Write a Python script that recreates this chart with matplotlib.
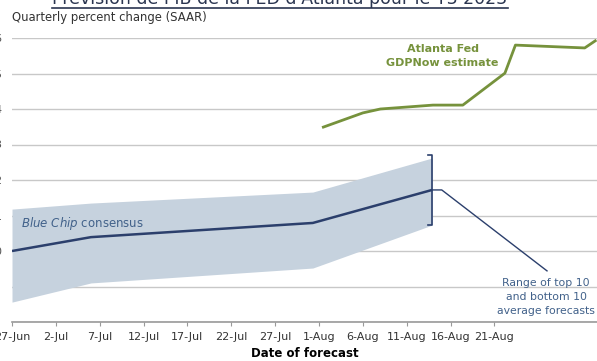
import matplotlib.pyplot as plt
from matplotlib.lines import Line2D

# days since 27-Jun
tick_days = [0, 5, 10, 15, 20, 25, 30, 35, 40, 45, 50, 55]
tick_labels = ['27-Jun', '2-Jul', '7-Jul', '12-Jul', '17-Jul', '22-Jul',
               '27-Jul', '1-Aug', '6-Aug', '11-Aug', '16-Aug', '21-Aug']

# Blue Chip consensus and range of top/bottom 10
bc_days = [0, 9, 34.3, 47.9]
bc_vals = [0.0, 0.39, 0.79, 1.72]
band_lo = [-1.44, -0.90, -0.48, 0.73]
band_hi = [1.18, 1.35, 1.66, 2.62]

# Atlanta Fed GDPNow
gdp_days = [35.5, 40.0, 42.0, 48.0, 51.4, 56.2, 57.4, 65.3, 66.5]
gdp_vals = [3.49, 3.89, 4.00, 4.11, 4.11, 5.01, 5.80, 5.72, 5.92]

navy = '#2b3f6c'
steel = '#41618a'
green = '#76923c'
band_col = '#c6d2de'
grid_col = '#c8c8c8'

W, H = 597, 361
fig = plt.figure(figsize=(W / 100, H / 100), dpi=100)
ax = fig.add_axes([12 / W, 39 / H, 1 - 12 / W, (322 - 38) / H])

ax.fill_between(bc_days, band_lo, band_hi, color=band_col, lw=0, zorder=1)
ax.plot(bc_days, bc_vals, color=navy, lw=1.8, zorder=3, solid_capstyle='butt')
ax.plot(gdp_days, gdp_vals, color=green, lw=2, zorder=3, clip_on=False)

# bracket for the range
bx = bc_days[-1]
ax.plot([bx - 0.5, bx, bx, bx - 0.5], [band_hi[-1] + 0.08, band_hi[-1] + 0.08, band_lo[-1], band_lo[-1]],
        color=navy, lw=1.2, zorder=4)

# leader line to annotation
ax.plot([bx, bx + 1.1, 61.0], [bc_vals[-1], bc_vals[-1], -0.56], color=navy, lw=1, zorder=3)
ax.text(60.9, -0.75, 'Range of top 10\nand bottom 10\naverage forecasts', color=steel,
        fontsize=7.8, ha='center', va='top', linespacing=1.5)

ax.text(1.0, 0.78, r'$\it{Blue\ Chip}$ consensus', color=steel, fontsize=8.5, va='center')

ax.text(49.1, 5.5, 'Atlanta Fed\nGDPNow estimate', color=green, fontsize=8,
        fontweight='bold', ha='center', va='center', linespacing=1.45)

ax.set_xlim(0, 66.7)
ax.set_ylim(-2, 6)
ax.set_yticks(range(-2, 7))
ax.set_yticklabels([str(v) for v in range(-2, 7)], color='#555555', fontsize=8)
ax.yaxis.grid(True, color=grid_col, lw=1)
ax.set_axisbelow(True)
ax.tick_params(axis='y', length=0, pad=7.5)
ax.set_xticks(tick_days)
ax.set_xticklabels(tick_labels, fontsize=8, color='#333333')
ax.tick_params(axis='x', length=3, color='#999999', pad=4)
for s in ['top', 'right', 'left']:
    ax.spines[s].set_visible(False)
ax.spines['bottom'].set_color('#999999')
ax.spines['bottom'].set_linewidth(1.2)
ax.set_xlabel('Date of forecast', fontsize=8.5, fontweight='bold', labelpad=4)

fig.text(12 / W, 1 - 18 / H, 'Quarterly percent change (SAAR)', fontsize=8.4, color='#333333', va='center')

title = fig.text(280 / W, 1 - 4 / H, "Prévision de PIB de la FED d'Atlanta pour le T3 2023",
                 fontsize=12.5, color='#2a3550', ha='center', va='baseline')
fig.canvas.draw()
bb = title.get_window_extent().transformed(fig.transFigure.inverted())
fig.add_artist(Line2D([bb.x0, bb.x1], [1 - 7.5 / H, 1 - 7.5 / H], color='#2a3550', lw=1.2))

fig.savefig('out.png', dpi=100)
